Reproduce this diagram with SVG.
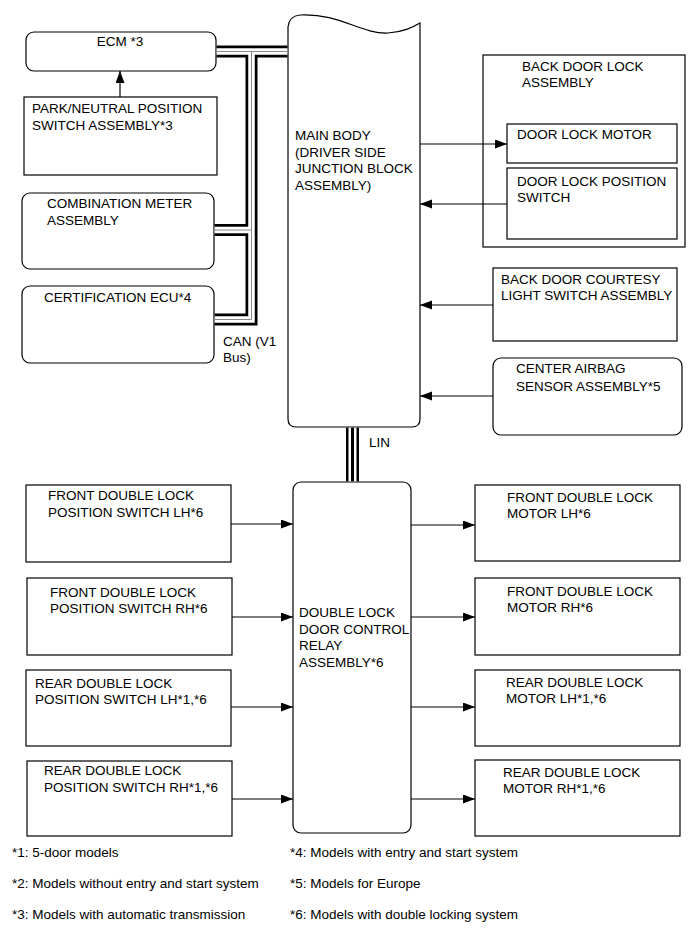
<svg xmlns="http://www.w3.org/2000/svg" width="690" height="952" viewBox="0 0 690 952">
<defs>
<marker id="ah" markerUnits="userSpaceOnUse" markerWidth="13" markerHeight="10" refX="12" refY="4.5" orient="auto">
<path d="M0,0 L12,4.5 L0,9 Z" fill="#000"/>
</marker>
<style>
text{font-family:"Liberation Sans",Arial,sans-serif;font-size:13.5px;fill:#000}
.box{fill:#fff;stroke:#000;stroke-width:1.2}
.arr{fill:none;stroke:#000;stroke-width:1.2;marker-end:url(#ah)}
.cb{fill:none;stroke:#000;stroke-width:12}
.cw{fill:none;stroke:#fff;stroke-width:6.5}
.cg{fill:none;stroke:#888;stroke-width:1}
</style>
</defs>
<rect width="690" height="952" fill="#fff"/>

<g id="ecm">
<rect class="box" x="26" y="32" width="190" height="39" rx="8"/>
<text x="120" y="46" text-anchor="middle">ECM *3</text>
</g>
<g id="pnp-switch">
<rect class="box" x="24" y="97" width="193" height="78"/>
<text x="32" y="113">PARK/NEUTRAL POSITION</text>
<text x="32" y="130">SWITCH ASSEMBLY*3</text>
</g>
<g id="combination-meter">
<rect class="box" x="22" y="193" width="192" height="76" rx="8"/>
<text x="47" y="208">COMBINATION METER</text>
<text x="47" y="225">ASSEMBLY</text>
</g>
<g id="certification-ecu">
<rect class="box" x="22" y="286" width="192" height="77" rx="8"/>
<text x="44" y="302">CERTIFICATION ECU*4</text>
</g>

<g id="main-body">
<path class="box" d="M288,27 Q289,16 300,15 C340,13 360,34 388,33 C404,32 413,27 420,23 L420,419 Q420,427 412,427 L296,427 Q288,427 288,419 Z"/>
<text x="295" y="140">MAIN BODY</text>
<text x="295" y="156.5">(DRIVER SIDE</text>
<text x="295" y="173">JUNCTION BLOCK</text>
<text x="295" y="189.5">ASSEMBLY)</text>
</g>

<g id="back-door-lock">
<rect class="box" x="483" y="55" width="202" height="192"/>
<text x="522" y="71">BACK DOOR LOCK</text>
<text x="522" y="87">ASSEMBLY</text>
</g>
<g id="door-lock-motor">
<rect class="box" x="507" y="124" width="170" height="39"/>
<text x="517" y="139">DOOR LOCK MOTOR</text>
</g>
<g id="door-lock-position-switch">
<rect class="box" x="507" y="168" width="170" height="71"/>
<text x="517" y="186">DOOR LOCK POSITION</text>
<text x="517" y="202">SWITCH</text>
</g>
<g id="courtesy-switch">
<rect class="box" x="493" y="268" width="184" height="73"/>
<text x="501" y="284">BACK DOOR COURTESY</text>
<text x="501" y="300">LIGHT SWITCH ASSEMBLY</text>
</g>
<g id="center-airbag">
<rect class="box" x="493" y="358" width="189" height="77" rx="8"/>
<text x="516" y="373">CENTER AIRBAG</text>
<text x="516" y="391">SENSOR ASSEMBLY*5</text>
</g>

<g id="double-lock-relay">
<rect class="box" x="293" y="482" width="118" height="351" rx="8"/>
<text x="299" y="617">DOUBLE LOCK</text>
<text x="299" y="633.5">DOOR CONTROL</text>
<text x="299" y="650">RELAY</text>
<text x="299" y="666.5">ASSEMBLY*6</text>
</g>

<g id="front-dl-switch-lh">
<rect class="box" x="26" y="485" width="205" height="77"/>
<text x="48" y="500">FRONT DOUBLE LOCK</text>
<text x="48" y="517">POSITION SWITCH LH*6</text>
</g>
<g id="front-dl-switch-rh">
<rect class="box" x="27" y="578" width="205" height="77"/>
<text x="50" y="597">FRONT DOUBLE LOCK</text>
<text x="50" y="613">POSITION SWITCH RH*6</text>
</g>
<g id="rear-dl-switch-lh">
<rect class="box" x="26" y="670" width="205" height="76"/>
<text x="35" y="688">REAR DOUBLE LOCK</text>
<text x="35" y="704">POSITION SWITCH LH*1,*6</text>
</g>
<g id="rear-dl-switch-rh">
<rect class="box" x="27" y="761" width="205" height="75"/>
<text x="44" y="775">REAR DOUBLE LOCK</text>
<text x="44" y="792">POSITION SWITCH RH*1,*6</text>
</g>

<g id="front-dl-motor-lh">
<rect class="box" x="475" y="485" width="205" height="76"/>
<text x="507" y="502">FRONT DOUBLE LOCK</text>
<text x="507" y="518">MOTOR LH*6</text>
</g>
<g id="front-dl-motor-rh">
<rect class="box" x="475" y="578" width="205" height="77"/>
<text x="507" y="596">FRONT DOUBLE LOCK</text>
<text x="507" y="612">MOTOR RH*6</text>
</g>
<g id="rear-dl-motor-lh">
<rect class="box" x="475" y="670" width="205" height="76"/>
<text x="506" y="687">REAR DOUBLE LOCK</text>
<text x="506" y="703">MOTOR LH*1,*6</text>
</g>
<g id="rear-dl-motor-rh">
<rect class="box" x="475" y="760" width="205" height="76"/>
<text x="503" y="777">REAR DOUBLE LOCK</text>
<text x="503" y="793">MOTOR RH*1,*6</text>
</g>

<g id="connectors">
<path class="arr" d="M120,97 L120,71"/>
<path class="arr" d="M420,144 L507,144"/>
<path class="arr" d="M507,204 L420,204"/>
<path class="arr" d="M493,305 L420,305"/>
<path class="arr" d="M493,396 L420,396"/>
<path class="arr" d="M231,524 L293,524"/>
<path class="arr" d="M232,617 L293,617"/>
<path class="arr" d="M231,707 L293,707"/>
<path class="arr" d="M232,799 L293,799"/>
<path class="arr" d="M411,525 L475,525"/>
<path class="arr" d="M411,617 L475,617"/>
<path class="arr" d="M411,707 L475,707"/>
<path class="arr" d="M411,799 L475,799"/>
<g id="can-bus">
<path class="cb" d="M216.6,51.5 L287.4,51.5 M251.5,51.5 L251.5,319.5 L214.6,319.5 M251.5,230 L214.6,230"/>
<path class="cw" d="M216.6,51.5 L287.4,51.5 M251.5,51.5 L251.5,319.5 L214.6,319.5 M251.5,230 L214.6,230"/>
<path class="cg" d="M216.6,51.5 L287.4,51.5 M251.5,51.5 L251.5,319.5 L214.6,319.5 M251.5,230 L214.6,230"/>
</g>
<g id="lin-bus">
<path d="M352.5,427.6 L352.5,481.4" stroke="#000" stroke-width="13" fill="none"/>
<path d="M352.5,427.6 L352.5,481.4" stroke="#fff" stroke-width="8" fill="none"/>
<path d="M352.5,427.6 L352.5,481.4" stroke="#000" stroke-width="3" fill="none"/>
</g>
<text x="223" y="346">CAN (V1</text>
<text x="223" y="362">Bus)</text>
<text x="369" y="447">LIN</text>
</g>

<g id="notes">
<text x="12" y="857">*1: 5-door models</text>
<text x="12" y="888">*2: Models without entry and start system</text>
<text x="12" y="919">*3: Models with automatic transmission</text>
<text x="290" y="857">*4: Models with entry and start system</text>
<text x="290" y="888">*5: Models for Europe</text>
<text x="290" y="919">*6: Models with double locking system</text>
</g>
</svg>
